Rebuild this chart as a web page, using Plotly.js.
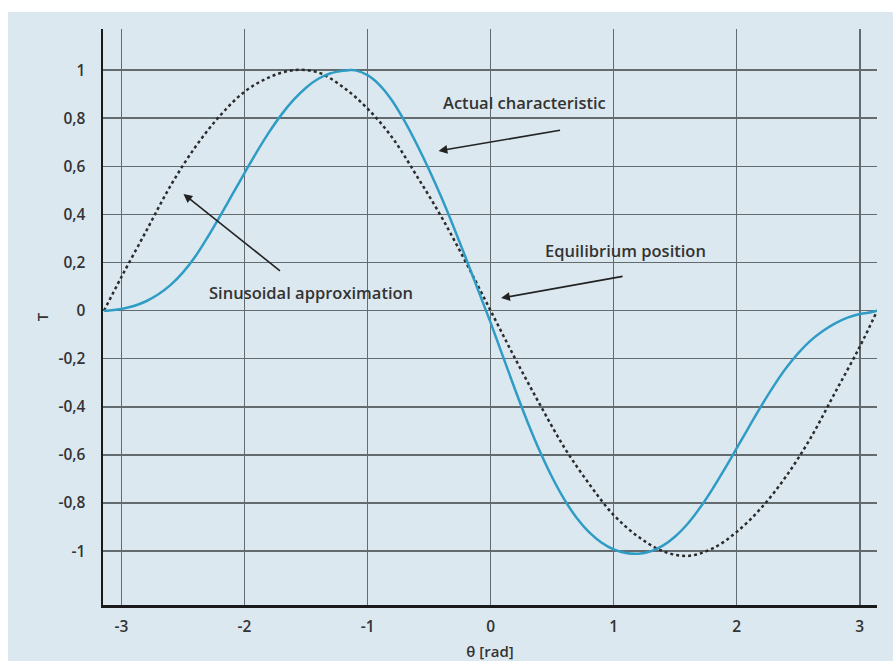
<!DOCTYPE html>
<html>
<head>
<meta charset="utf-8">
<script src="https://cdn.plot.ly/plotly-3.0.1.min.js"></script>
<style>
  html, body { margin: 0; padding: 0; background: #ffffff; }
  #chart { position: absolute; left: 8px; top: 12px; width: 885px; height: 649px; }
</style>
</head>
<body>
<div id="chart"></div>
<script>
// Actual characteristic
const actualTheta = [-3.1416, -3.1, -3.0, -2.9, -2.8, -2.7, -2.6, -2.5, -2.4, -2.3, -2.2, -2.1, -2.0, -1.9, -1.8, -1.7, -1.6, -1.5, -1.4, -1.3, -1.2, -1.15, -1.1, -1.0, -0.9, -0.8, -0.7, -0.6, -0.5, -0.4, -0.3, -0.2, -0.1, 0.0, 0.1, 0.2, 0.3, 0.4, 0.5, 0.6, 0.7, 0.8, 0.9, 1.0, 1.1, 1.2, 1.3, 1.4, 1.5, 1.6, 1.7, 1.8, 1.9, 2.0, 2.1, 2.2, 2.3, 2.4, 2.5, 2.6, 2.7, 2.8, 2.9, 3.0, 3.1, 3.1416];
const actualT     = [0, 0.001, 0.007, 0.019, 0.039, 0.068, 0.107, 0.159, 0.225, 0.305, 0.392, 0.482, 0.572, 0.66, 0.742, 0.815, 0.877, 0.927, 0.964, 0.987, 0.997, 1.0, 0.999, 0.979, 0.937, 0.873, 0.789, 0.692, 0.586, 0.471, 0.347, 0.217, 0.083, -0.05, -0.19, -0.33, -0.463, -0.585, -0.693, -0.786, -0.862, -0.921, -0.964, -0.993, -1.008, -1.011, -1.001, -0.977, -0.939, -0.887, -0.821, -0.744, -0.66, -0.572, -0.483, -0.396, -0.314, -0.24, -0.177, -0.125, -0.085, -0.053, -0.029, -0.014, -0.006, 0];

// Sinusoidal approximation
const sinTheta = [-3.1416, -3.0, -2.8, -2.6, -2.4, -2.2, -2.0, -1.8, -1.6, -1.4, -1.2, -1.0, -0.8, -0.6, -0.4, -0.2, 0, 0.2, 0.4, 0.6, 0.8, 1.0, 1.2, 1.4, 1.6, 1.8, 2.0, 2.2, 2.4, 2.6, 2.8, 3.0, 3.1416];
const sinT     = [0, 0.14, 0.33, 0.52, 0.68, 0.81, 0.91, 0.97, 1.0, 0.99, 0.93, 0.84, 0.72, 0.56, 0.39, 0.2, 0, -0.2, -0.39, -0.57, -0.72, -0.85, -0.94, -1.0, -1.02, -0.99, -0.92, -0.82, -0.69, -0.53, -0.34, -0.15, 0];

const xTickVals = [-3, -2, -1, 0, 1, 2, 3];
const xTickText = ['-3', '-2', '-1', '0', '1', '2', '3'];
const yTickVals = [-1, -0.8, -0.6, -0.4, -0.2, 0, 0.2, 0.4, 0.6, 0.8, 1];
const yTickText = ['-1', '-0,8', '-0,6', '-0,4', '-0,2', '0', '0,2', '0,4', '0,6', '0,8', '1'];

const tickFont = { family: 'Open Sans, sans-serif', size: 15.5, color: '#333333', weight: 600 };
const noteFont = { family: 'Open Sans, sans-serif', size: 16.5, color: '#333333', weight: 600 };

const traces = [
  {
    x: sinTheta, y: sinT, type: 'scatter', mode: 'lines',
    line: { color: '#2b2b2b', width: 2.5, dash: 'dot', shape: 'spline' },
    hoverinfo: 'skip', showlegend: false
  },
  {
    x: actualTheta, y: actualT, type: 'scatter', mode: 'lines',
    line: { color: '#2f9cc6', width: 2.5, shape: 'spline' },
    hoverinfo: 'skip', showlegend: false
  }
];

const layout = {
  width: 885, height: 649,
  margin: { l: 95, r: 16, t: 17, b: 56 },
  paper_bgcolor: '#dce8f0',
  plot_bgcolor: '#dce8f0',
  separators: ',.',
  showlegend: false,
  font: { family: 'Open Sans, sans-serif', size: 14, color: '#333333' },
  xaxis: {
    range: [-3.15, 3.14],
    tickvals: xTickVals, ticktext: xTickText,
    showgrid: true, gridcolor: '#636b6e', gridwidth: 1.5,
    zeroline: false,
    showline: true, linecolor: '#1a1a1a', linewidth: 2.5,
    ticks: '', ticklabelstandoff: 6,
    tickfont: tickFont,
    title: { text: 'θ [rad]', font: { family: 'Open Sans, sans-serif', size: 15, color: '#333333', weight: 600 }, standoff: 12 },
    fixedrange: true
  },
  yaxis: {
    range: [-1.224, 1.171],
    tickvals: yTickVals, ticktext: yTickText,
    showgrid: true, gridcolor: '#636b6e', gridwidth: 1.5,
    zeroline: false,
    showline: true, linecolor: '#1a1a1a', linewidth: 2.5,
    ticks: '', ticklabelstandoff: 12,
    tickfont: tickFont,
    title: { text: 'T', font: { family: 'Open Sans, sans-serif', size: 15, color: '#333333', weight: 600 }, standoff: 6 },
    fixedrange: true
  },
  annotations: [
    { x: 0.276, y: 0.864, xref: 'x', yref: 'y', text: 'Actual characteristic', showarrow: false, font: noteFont },
    { x: 1.095, y: 0.252, xref: 'x', yref: 'y', text: 'Equilibrium position', showarrow: false, font: noteFont },
    { x: -1.462, y: 0.075, xref: 'x', yref: 'y', text: 'Sinusoidal approximation', showarrow: false, font: noteFont },
    { x: -0.423, y: 0.664, xref: 'x', yref: 'y', text: '', showarrow: true, ax: 123, ay: -21, arrowhead: 2, arrowsize: 1.1, arrowwidth: 1.6, arrowcolor: '#222222' },
    { x: 0.085, y: 0.052, xref: 'x', yref: 'y', text: '', showarrow: true, ax: 123, ay: -22, arrowhead: 2, arrowsize: 1.1, arrowwidth: 1.6, arrowcolor: '#222222' },
    { x: -2.496, y: 0.485, xref: 'x', yref: 'y', text: '', showarrow: true, ax: 98, ay: 78, arrowhead: 2, arrowsize: 1.1, arrowwidth: 1.6, arrowcolor: '#222222' }
  ]
};

Plotly.newPlot('chart', traces, layout, { displayModeBar: false, staticPlot: true });
</script>
</body>
</html>
